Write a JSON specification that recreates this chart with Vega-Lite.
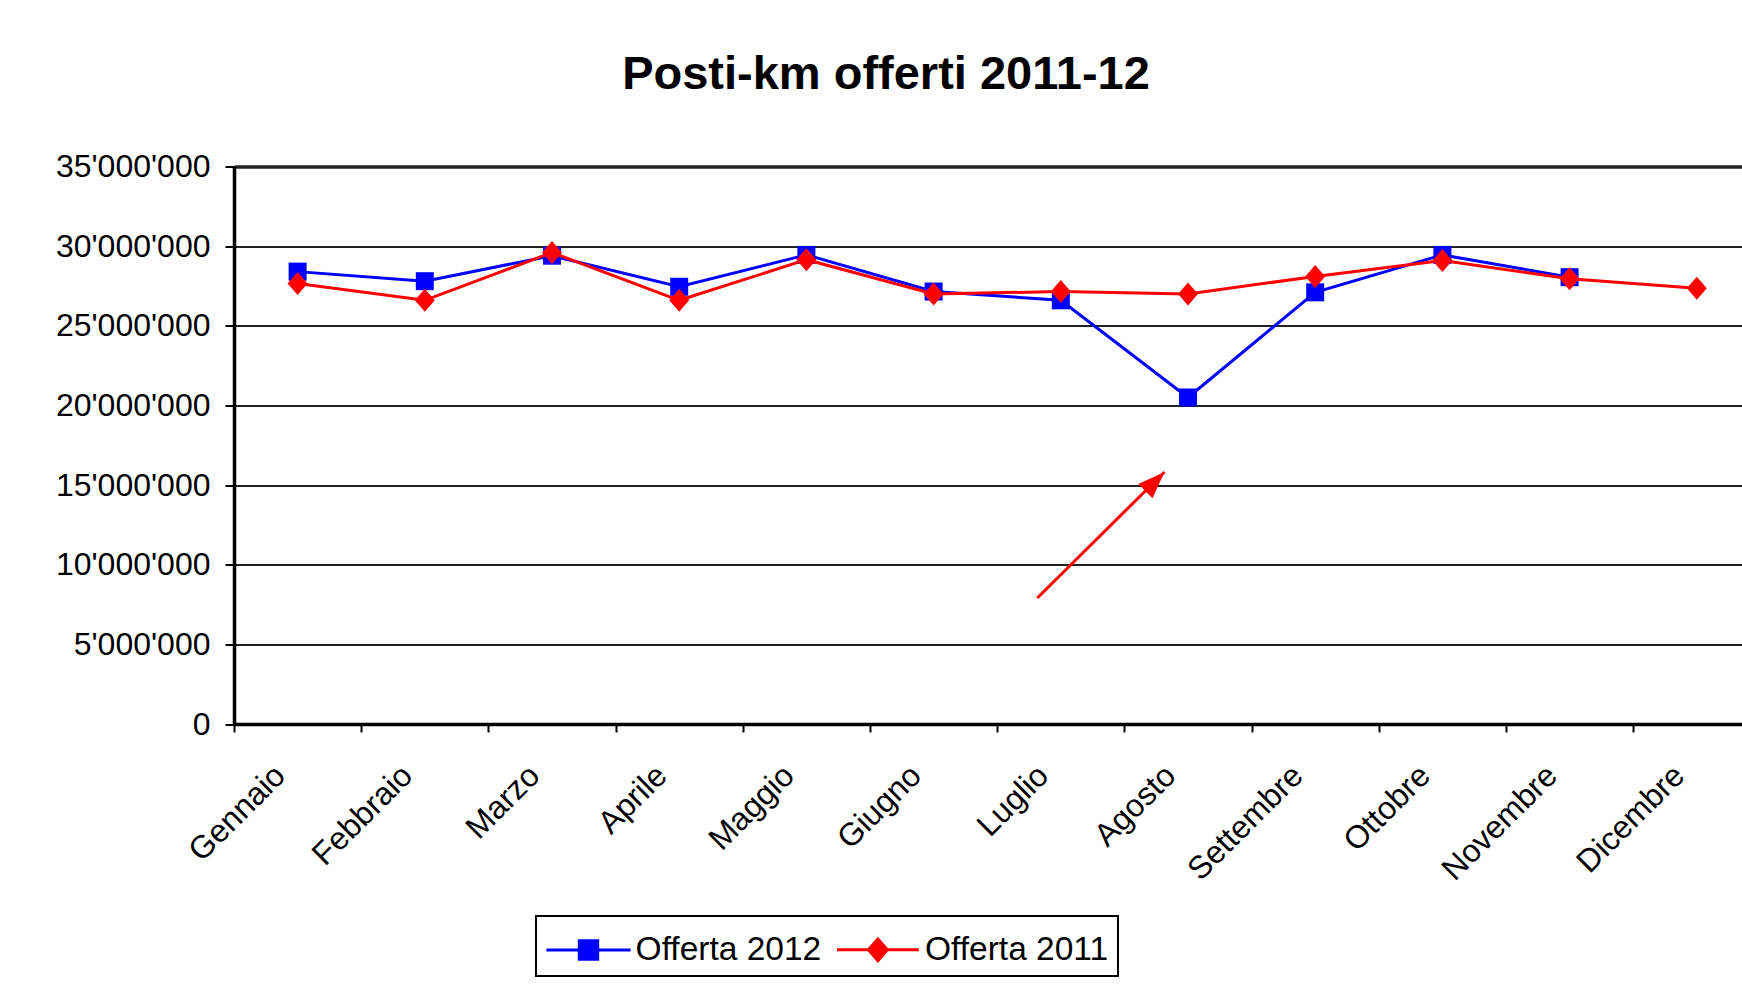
{
  "$schema": "https://vega.github.io/schema/vega-lite/v6.json",
  "width": 1508,
  "height": 557.5,
  "autosize": {"type": "none"},
  "padding": {"left": 234, "top": 166.5, "right": 0, "bottom": 261},
  "background": "white",
  "title": {
    "text": "Posti-km offerti 2011-12",
    "anchor": "middle",
    "frame": "group",
    "dx": -102,
    "offset": 14.5,
    "baseline": "alphabetic",
    "font": "Liberation Sans",
    "fontSize": 47,
    "fontWeight": "bold",
    "color": "#000000"
  },
  "datasets": {
    "offerta": [
      {"month": "Gennaio", "series": "Offerta 2012", "posti_km": 28400000},
      {"month": "Febbraio", "series": "Offerta 2012", "posti_km": 27800000},
      {"month": "Marzo", "series": "Offerta 2012", "posti_km": 29400000},
      {"month": "Aprile", "series": "Offerta 2012", "posti_km": 27450000},
      {"month": "Maggio", "series": "Offerta 2012", "posti_km": 29450000},
      {"month": "Giugno", "series": "Offerta 2012", "posti_km": 27150000},
      {"month": "Luglio", "series": "Offerta 2012", "posti_km": 26600000},
      {"month": "Agosto", "series": "Offerta 2012", "posti_km": 20500000},
      {"month": "Settembre", "series": "Offerta 2012", "posti_km": 27100000},
      {"month": "Ottobre", "series": "Offerta 2012", "posti_km": 29450000},
      {"month": "Novembre", "series": "Offerta 2012", "posti_km": 28050000},
      {"month": "Gennaio", "series": "Offerta 2011", "posti_km": 27650000},
      {"month": "Febbraio", "series": "Offerta 2011", "posti_km": 26600000},
      {"month": "Marzo", "series": "Offerta 2011", "posti_km": 29600000},
      {"month": "Aprile", "series": "Offerta 2011", "posti_km": 26600000},
      {"month": "Maggio", "series": "Offerta 2011", "posti_km": 29150000},
      {"month": "Giugno", "series": "Offerta 2011", "posti_km": 27000000},
      {"month": "Luglio", "series": "Offerta 2011", "posti_km": 27150000},
      {"month": "Agosto", "series": "Offerta 2011", "posti_km": 27000000},
      {"month": "Settembre", "series": "Offerta 2011", "posti_km": 28100000},
      {"month": "Ottobre", "series": "Offerta 2011", "posti_km": 29100000},
      {"month": "Novembre", "series": "Offerta 2011", "posti_km": 27950000},
      {"month": "Dicembre", "series": "Offerta 2011", "posti_km": 27350000}
    ],
    "arrow": [
      {"from": "Luglio", "to": "Agosto", "tail": 7910000, "head": 15820000}
    ]
  },
  "layer": [
    {
      "data": {"name": "offerta"},
      "encoding": {
        "x": {
          "field": "month",
          "type": "nominal",
          "title": null,
          "bandPosition": 0.5,
          "scale": {
            "type": "band",
            "domain": ["Gennaio", "Febbraio", "Marzo", "Aprile", "Maggio", "Giugno", "Luglio", "Agosto", "Settembre", "Ottobre", "Novembre", "Dicembre"],
            "paddingInner": 0,
            "paddingOuter": 0,
            "range": [0, 1526.4]
          },
          "axis": {
            "title": null,
            "tickBand": "extent",
            "labelAngle": -45,
            "labelAlign": "right",
            "labelBaseline": "middle",
            "labelFont": "Liberation Sans",
            "labelFontSize": 32,
            "labelColor": "#000000",
            "labelPadding": 38,
            "labelOffset": -18,
            "labelOverlap": false,
            "tickSize": 8,
            "tickColor": "#000000",
            "tickWidth": 2,
            "domainColor": "#000000",
            "domainWidth": 3.5,
            "grid": false
          }
        },
        "y": {
          "field": "posti_km",
          "type": "quantitative",
          "title": null,
          "scale": {"domain": [0, 35000000], "nice": false, "zero": true},
          "axis": {
            "title": null,
            "values": [0, 5000000, 10000000, 15000000, 20000000, 25000000, 30000000, 35000000],
            "labelExpr": "replace(replace(format(datum.value, ','), ',', \"'\"), ',', \"'\")",
            "labelFont": "Liberation Sans",
            "labelFontSize": 32,
            "labelColor": "#000000",
            "labelPadding": 15,
            "tickSize": 9,
            "tickColor": "#000000",
            "tickWidth": 2,
            "domainColor": "#000000",
            "domainWidth": 3.5,
            "grid": true,
            "gridColor": "#222222",
            "gridOpacity": 1,
            "gridWidth": {"condition": {"test": "datum.value === 35000000", "value": 3.5}, "value": 2}
          }
        },
        "color": {
          "field": "series",
          "type": "nominal",
          "scale": {"domain": ["Offerta 2012", "Offerta 2011"], "range": ["#0000FF", "#FF0000"]},
          "legend": {
            "title": null,
            "orient": "none",
            "legendX": 302,
            "legendY": 749.5,
            "direction": "horizontal",
            "padding": 9,
            "strokeColor": "#000000",
            "fillColor": "#FFFFFF",
            "symbolSize": 2116,
            "symbolOffset": 19,
            "labelOffset": 22.6,
            "labelLimit": 500,
            "columnPadding": 8.4,
            "labelFont": "Liberation Sans",
            "labelFontSize": 33.5,
            "labelColor": "#000000",
            "symbolType": {"expr": "datum.value === 'Offerta 2012' ? 'M-1.83,0H1.83M-0.4,-0.4H0.4V0.4H-0.4Z' : 'M-1.78,0H1.78M0,-0.47L0.41,0L0,0.47L-0.41,0Z'"},
            "symbolFillColor": {"expr": "datum.value === 'Offerta 2012' ? '#0000FF' : '#FF0000'"},
            "symbolStrokeColor": {"expr": "datum.value === 'Offerta 2012' ? '#0000FF' : '#FF0000'"},
            "symbolStrokeWidth": 3,
            "symbolOpacity": 1
          }
        }
      },
      "layer": [
        {
          "transform": [{"filter": "datum.series === 'Offerta 2012'"}],
          "mark": {"type": "line", "strokeWidth": 3}
        },
        {
          "transform": [{"filter": "datum.series === 'Offerta 2012'"}],
          "mark": {"type": "point", "shape": "M-0.9,-0.9H0.9V0.9H-0.9Z", "filled": true, "opacity": 1, "size": 400, "strokeWidth": 0}
        },
        {
          "transform": [{"filter": "datum.series === 'Offerta 2011'"}],
          "mark": {"type": "line", "strokeWidth": 3}
        },
        {
          "transform": [{"filter": "datum.series === 'Offerta 2011'"}],
          "mark": {"type": "point", "shape": "M0,-1.15L1,0L0,1.15L-1,0Z", "filled": true, "opacity": 1, "size": 400, "strokeWidth": 0}
        }
      ]
    },
    {
      "data": {"name": "arrow"},
      "mark": {"type": "rule", "color": "#FF0000", "strokeWidth": 3, "xOffset": -23.5, "x2Offset": -23.5},
      "encoding": {
        "x": {"field": "from", "type": "nominal", "title": null, "bandPosition": 0.5},
        "x2": {"field": "to"},
        "y": {"field": "tail", "type": "quantitative", "title": null},
        "y2": {"field": "head"}
      }
    },
    {
      "data": {"name": "arrow"},
      "mark": {"type": "point", "shape": "M0,0L1,2.7L-1,2.7Z", "angle": 45, "size": 400, "filled": true, "opacity": 1, "color": "#FF0000", "strokeWidth": 0, "xOffset": -23.5},
      "encoding": {
        "x": {"field": "to", "type": "nominal", "title": null, "bandPosition": 0.5},
        "y": {"field": "head", "type": "quantitative", "title": null}
      }
    }
  ],
  "config": {
    "view": {"stroke": null},
    "font": "Liberation Sans",
    "legend": {"strokeWidth": 2}
  }
}
